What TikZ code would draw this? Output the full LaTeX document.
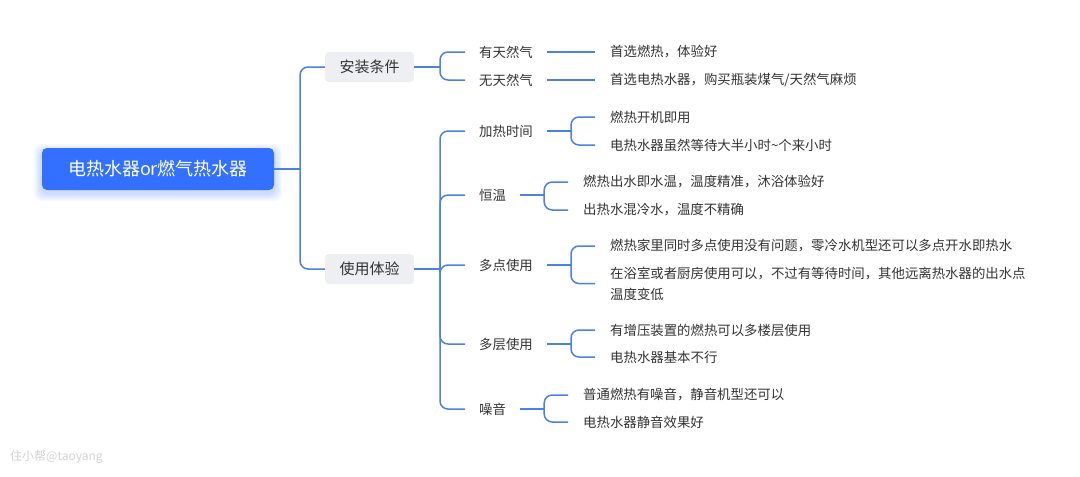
\documentclass[tikz,border=0pt]{standalone}
\usepackage{fontspec}
\setmainfont{Noto Sans CJK SC}
\usetikzlibrary{calc,backgrounds}
\definecolor{lineblue}{RGB}{74,128,232}
\definecolor{rootblue}{RGB}{51,112,255}
\definecolor{boxgray}{RGB}{238,239,242}
\definecolor{txt}{RGB}{51,51,51}
\begin{document}
\begin{tikzpicture}[x=1pt,y=-1pt,
  conn/.style={draw=lineblue,line width=1.5pt,rounded corners=8pt},
  rootbox/.style={fill=rootblue,text=white,rounded corners=5pt,minimum width=232pt,minimum height=42pt,inner sep=0pt,font=\fontsize{18}{22}\selectfont},
  lvlone/.style={fill=boxgray,text=txt,rounded corners=4pt,minimum width=89pt,minimum height=30pt,inner sep=0pt,font=\fontsize{15}{18}\selectfont},
  lvltwo/.style={anchor=west,inner xsep=14pt,inner ysep=2pt,text=txt,font=\fontsize{13.4}{18}\selectfont},
  leaf/.style={anchor=west,inner xsep=15pt,inner ysep=2pt,text=txt,align=left,font=\fontsize{13.4}{21}\selectfont}]
\useasboundingbox (0,0) rectangle (1080,477);

% root
\node[rootbox] (root) at (158,169) {电热水器or燃气热水器};
\begin{scope}[on background layer]
\foreach \i in {1,...,8}{
  \fill[rootblue,opacity=0.035,rounded corners=8pt] ($(root.south west)+(-\i,\i+3)$) rectangle ($(root.north east)+(\i,-\i+4)$);
}
\end{scope}

% level one
\node[lvlone] (az) at (369.5,67) {安装条件};
\node[lvlone] (sy) at (369.5,269) {使用体验};

% level two
\node[lvltwo] (ytr) at (465,52) {有天然气};
\node[lvltwo] (wtr) at (465,80) {无天然气};
\node[lvltwo] (jr) at (465,131) {加热时间};
\node[lvltwo] (hw) at (465,195) {恒温};
\node[lvltwo] (dd) at (465,265) {多点使用};
\node[lvltwo] (dc) at (465,344) {多层使用};
\node[lvltwo] (zy) at (465,409) {噪音};

% leaves
\node[leaf] (l1) at (595,52) {首选燃热，体验好};
\node[leaf] (l2) at (595,80) {首选电热水器，购买瓶装煤气/天然气麻烦};
\node[leaf] (l3a) at (595,117) {燃热开机即用};
\node[leaf] (l3b) at (595,145) {电热水器虽然等待大半小时\textasciitilde 个来小时};
\node[leaf] (l4a) at (568,182) {燃热出水即水温，温度精准，沐浴体验好};
\node[leaf] (l4b) at (568,210) {出热水混冷水，温度不精确};
\node[leaf] (l5a) at (595,246) {燃热家里同时多点使用没有问题，零冷水机型还可以多点开水即热水};
\node[leaf] (l5b) at (595,283.5) {在浴室或者厨房使用可以，不过有等待时间，其他远离热水器的出水点\\温度变低};
\node[leaf] (l6a) at (595,330) {有增压装置的燃热可以多楼层使用};
\node[leaf] (l6b) at (595,357) {电热水器基本不行};
\node[leaf] (l7a) at (568,395) {普通燃热有噪音，静音机型还可以};
\node[leaf] (l7b) at (568,422) {电热水器静音效果好};

% junctions
\coordinate (j0) at (300,169);
\coordinate (j1) at (440,67);
\coordinate (j2) at (440,269);
\path (jr.east) ++(24,0) coordinate (j3);
\path (hw.east) ++(24,0) coordinate (j4);
\path (dd.east) ++(24,0) coordinate (j5);
\path (dc.east) ++(24,0) coordinate (j6);
\path (zy.east) ++(24,0) coordinate (j7);

% connectors
\draw[conn] (root.east) -- (j0);
\draw[conn] (j0) |- (az.west);
\draw[conn] (j0) |- (sy.west);

\draw[conn] (az.east) -- (j1);
\draw[conn] (j1) |- (ytr.west);
\draw[conn] (j1) |- (wtr.west);
\draw[conn] (ytr.east) -- (l1.west);
\draw[conn] (wtr.east) -- (l2.west);

\draw[conn] (sy.east) -- (j2);
\foreach \n in {jr,hw,dd,dc,zy}{\draw[conn] (j2) |- (\n.west);}

\draw[conn] (jr.east) -- (j3);
\draw[conn] (j3) |- (l3a.west);
\draw[conn] (j3) |- (l3b.west);
\draw[conn] (hw.east) -- (j4);
\draw[conn] (j4) |- (l4a.west);
\draw[conn] (j4) |- (l4b.west);
\draw[conn] (dd.east) -- (j5);
\draw[conn] (j5) |- (l5a.west);
\draw[conn] (j5) |- (l5b.west);
\draw[conn] (dc.east) -- (j6);
\draw[conn] (j6) |- (l6a.west);
\draw[conn] (j6) |- (l6b.west);
\draw[conn] (zy.east) -- (j7);
\draw[conn] (j7) |- (l7a.west);
\draw[conn] (j7) |- (l7b.west);

% watermark
\node[anchor=west,text=gray!35,inner sep=0pt,font=\fontsize{12}{14}\selectfont] (wm) at (10,457) {住小帮@taoyang};
\end{tikzpicture}
\end{document}
